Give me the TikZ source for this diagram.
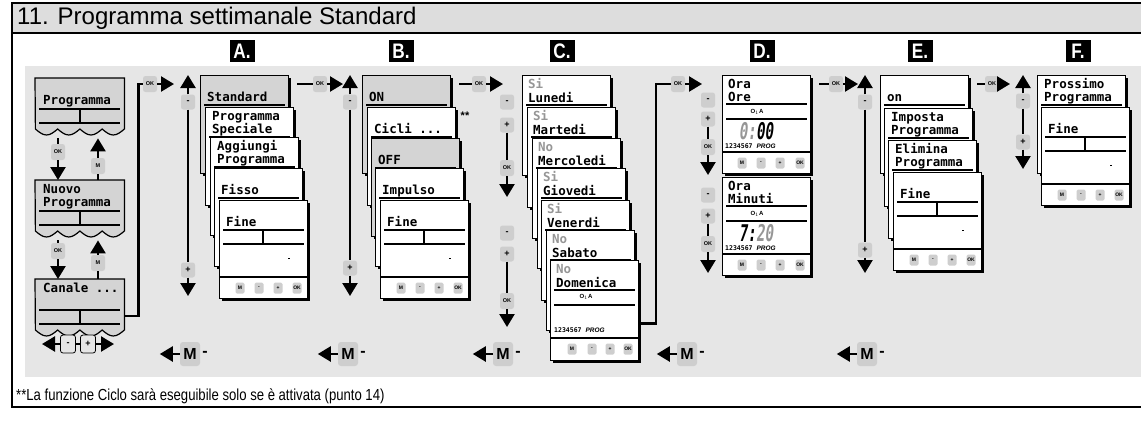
\documentclass[tikz,border=0pt]{standalone}
\usepackage{fontspec}
\setmainfont{Liberation Sans}
\newfontfamily\narrowsans[FakeStretch=0.82]{Liberation Sans}
\newfontfamily\lcdfont{DejaVu Sans Mono}
\newfontfamily\segfont[FakeStretch=0.62,FakeSlant=0.12]{DejaVu Sans Mono}
\usetikzlibrary{arrows.meta,calc,positioning,shadows}
\definecolor{panelgray}{RGB}{230,230,230}
\definecolor{titlegray}{RGB}{221,221,221}
\definecolor{keygray}{RGB}{206,206,206}
\definecolor{screengray}{RGB}{212,212,212}
\definecolor{dimtext}{RGB}{150,150,150}

\begin{document}
\begin{tikzpicture}[
        x=1pt, y=-1pt,
        card/.style={draw=black, line width=1.2pt, fill=white, anchor=north west, inner sep=0pt, minimum width=88pt, minimum height=98pt, general shadow={fill=black, shadow xshift=2.2pt, shadow yshift=-2.2pt}},
        shell/.style={inner sep=0pt, anchor=north west, minimum width=89pt, minimum height=60pt},
        lcd/.style={font=\lcdfont\bfseries\fontsize{12.5}{12.5}\selectfont, inner sep=0pt, anchor=base west},
        rule/.style={line width=1.1pt},
        key/.style={fill=keygray, rounded corners=2.5pt, minimum width=14pt, minimum height=15pt, inner sep=0pt, font=\bfseries\fontsize{9}{9}\selectfont},
        okkey/.style={key, minimum height=16pt, font=\bfseries\fontsize{5.5}{5.5}\selectfont},
        outkey/.style={key, draw=black, line width=0.8pt, fill=panelgray, minimum width=15pt, minimum height=18pt},
        minikey/.style={key, rounded corners=1.5pt, minimum width=9pt, minimum height=11pt, font=\bfseries\fontsize{5}{5}\selectfont},
        bigkey/.style={key, rounded corners=3pt, minimum width=20pt, minimum height=24pt, font=\bfseries\fontsize{16}{16}\selectfont},
        icon/.style={inner sep=0pt, font=\bfseries\fontsize{6}{6}\selectfont},
        days/.style={inner sep=0pt, anchor=base west, font=\lcdfont\bfseries\fontsize{6.5}{6.5}\selectfont},
        seg/.style={inner sep=0pt, anchor=base, text height=15pt, text depth=0pt, font=\segfont\bfseries\fontsize{23}{23}\selectfont},
        link/.style={line width=2.4pt},
        tip/.style={line width=2.4pt, -{Triangle[length=13pt, width=15pt]}},
        stamp/.style={fill=black, text=white, inner sep=0pt, minimum width=25pt, minimum height=22pt, font=\narrowsans\bfseries\fontsize{21}{21}\selectfont}
      ]
      \useasboundingbox (0,0) rectangle (1141,421);
      \fill[titlegray] (12,3) rectangle (1141,33);
      \fill[panelgray] (25,66) rectangle (1141,377);
      \draw[line width=1.6pt] (1141,3) -- (12,3) -- (12,407) -- (1141,407);
      \draw[line width=1.6pt] (12,33) -- (1141,33);
      \node[anchor=west, inner sep=0pt, font=\fontsize{24}{24}\selectfont] (title) at (17,18) {11. Programma settimanale Standard};
      \node[anchor=west, inner sep=0pt, font=\narrowsans\fontsize{16}{16}\selectfont] (note) at (16,396) {**La funzione Ciclo sarà eseguibile solo se è attivata (punto 14)};

      \foreach \nm/\x in {A/242, B/401, C/562, D/762, E/920, F/1078}
        \node[stamp] (lab\nm) at (\x,51) {\nm.};

      % left column
      \foreach \nm/\y/\up/\low in {prog/78//Programma, nuovo/180/Nuovo/Programma, canale/279/Canale .{}.{}./}{
        \node[shell] (\nm) at (35,\y) {};
        \filldraw[fill=screengray, line width=1.2pt] (\nm.north west) -- (\nm.north east) -- ++(0,51)
          sin ++(-11.125,6) cos ++(-11.125,-6) sin ++(-11.125,6) cos ++(-11.125,-6)
          sin ++(-11.125,6) cos ++(-11.125,-6) sin ++(-11.125,6) cos ++(-11.125,-6) -- cycle;
        \node[lcd] (\nm-up) at ([shift={(8,13)}]\nm.north west) {\up};
        \node[lcd] (\nm-low) at ([shift={(8,26)}]\nm.north west) {\low};
        \draw[rule] ([shift={(4,31)}]\nm.north west) -- ([shift={(-4,31)}]\nm.north east);
        \draw[rule] ([shift={(4,45)}]\nm.north west) -- ([shift={(-4,45)}]\nm.north east);
        \draw[rule] ([shift={(45,31)}]\nm.north west) -- ([shift={(45,45)}]\nm.north west);
      }
      \node[okkey] (ok1) at (58,152) {OK};
      \node[okkey] (back1) at (98,166) {M};
      \node[okkey] (ok2) at (58,251) {OK};
      \node[okkey] (back2) at (98,263) {M};
      \draw[link] (prog.south -| ok1) -- (ok1);
      \draw[tip] (ok1) -- (nuovo.north -| ok1);
      \draw[link] (back1) -- (nuovo.north -| back1);
      \draw[tip] (back1) -- (prog.south -| back1);
      \draw[link] (nuovo.south -| ok2) -- (ok2);
      \draw[tip] (ok2) -- (canale.north -| ok2);
      \draw[link] (back2) -- (canale.north -| back2);
      \draw[tip] (back2) -- (nuovo.south -| back2);

      \node[outkey] (chminus) at (68,344) {-};
      \node[outkey] (chplus) at (88,344) {+};
      \coordinate (chleft) at (42,344);
      \coordinate (chright) at (114,344);
      \draw[link] (chminus) -- (chplus);
      \draw[tip] (chminus) -- (chleft);
      \draw[tip] (chplus) -- (chright);

      \node[okkey] (okA) at (150,84) {OK};
      \coordinate (inA) at (174,84);
      \draw[link] ([yshift=-7pt]canale.east) -- ++(14,0) |- (okA);
      \draw[tip] (okA) -- (inA);

      % menu stacks
      \foreach \s/\i/\x/\y/\bg/\up/\low in {a/1/200/75/screengray//Standard, a/2/205/107/white/Programma/Speciale,
          a/3/210/137/white/Aggiungi/Programma, a/4/214/168/white//Fisso,
          b/1/362/75/screengray//ON, b/2/367/107/white//Cicli .{}.{}., b/3/371/138/screengray//OFF, b/4/375/168/white//Impulso,
          e/1/880/75/white//on, e/2/884/108/white/Imposta/Programma, e/3/888/140/white/Elimina/Programma,
          f/1/1037/75/white/Prossimo/Programma}{
        \node[card, fill=\bg] (\s\i) at (\x,\y) {};
        \node[lcd] (\s\i-up) at ([shift={(7,13)}]\s\i.north west) {\up};
        \node[lcd] (\s\i-low) at ([shift={(7,26)}]\s\i.north west) {\low};
        \draw[rule] ([shift={(4,30)}]\s\i.north west) -- ([shift={(-4,30)}]\s\i.north east);
      }
      \foreach \nm/\x/\y in {a5/219/200, b5/380/200, e4/893/172, f2/1041/107}{
        \node[card] (\nm) at (\x,\y) {};
        \node[lcd] (\nm-low) at ([shift={(7,26)}]\nm.north west) {Fine};
        \draw[rule] ([shift={(4,30)}]\nm.north west) -- ([shift={(-4,30)}]\nm.north east);
        \draw[rule] ([shift={(4,44)}]\nm.north west) -- ([shift={(-4,44)}]\nm.north east);
        \draw[rule] ([shift={(44,30)}]\nm.north west) -- ([shift={(44,44)}]\nm.north west);
        \draw[rule] ([shift={(0,77)}]\nm.north west) -- ([shift={(0,77)}]\nm.north east);
        \draw[line width=0.6pt] ([shift={(69,58)}]\nm.north west) -- ([shift={(71,58)}]\nm.north west);
        \foreach \k/\dx [count=\j] in {M/21, -/40, +/59, OK/78}
          \node[minikey] (\nm-k\j) at ([shift={(\dx,88)}]\nm.north west) {\k};
      }
      \node[inner sep=0pt, font=\bfseries\fontsize{11}{11}\selectfont] (stars) at (465,116) {**};

      % weekdays
      \foreach \x/\y/\yn/\day [count=\i] in {522/75/Si/Lunedi, 527/107/Si/Martedi, 532/138/No/Mercoledi, 537/168/Si/Giovedi,
          541/200/Si/Venerdi, 546/230/No/Sabato, 550/260/No/Domenica}{
        \node[card, minimum height=100pt] (c\i) at (\x,\y) {};
        \node[lcd, text=dimtext] (c\i-up) at ([shift={(6,13)}]c\i.north west) {\yn};
        \node[lcd] (c\i-low) at ([shift={(6,27)}]c\i.north west) {\day};
        \draw[rule] ([shift={(4,30)}]c\i.north west) -- ([shift={(-4,30)}]c\i.north east);
      }
      \draw[rule] ([shift={(4,45)}]c7.north west) -- ([shift={(-4,45)}]c7.north east);
      \node[icon] (c7-icon) at ([shift={(36,37)}]c7.north west) {O$_1$A};
      \node[days] (c7-days) at ([shift={(4,72)}]c7.north west) {1234567 {\rmfamily\itshape PROG}};
      \draw[rule] ([shift={(0,78)}]c7.north west) -- ([shift={(0,78)}]c7.north east);
      \foreach \k/\dx [count=\j] in {M/22, -/42, +/60, OK/78}
        \node[minikey] (c7-k\j) at ([shift={(\dx,89)}]c7.north west) {\k};

      % clock
      \foreach \i/\y/\low in {1/75/Ore, 2/177/Minuti}{
        \node[card] (d\i) at (722,\y) {};
        \node[lcd] (d\i-up) at ([shift={(6,13)}]d\i.north west) {Ora};
        \node[lcd] (d\i-low) at ([shift={(6,26)}]d\i.north west) {\low};
        \draw[rule] ([shift={(4,29)}]d\i.north west) -- ([shift={(-4,29)}]d\i.north east);
        \draw[rule] ([shift={(4,44)}]d\i.north west) -- ([shift={(-4,44)}]d\i.north east);
        \node[icon] (d\i-icon) at ([shift={(35,37)}]d\i.north west) {O$_1$A};
        \node[days] (d\i-days) at ([shift={(3,73)}]d\i.north west) {1234567 {\rmfamily\itshape PROG}};
        \draw[rule] ([shift={(0,77)}]d\i.north west) -- ([shift={(0,77)}]d\i.north east);
        \foreach \k/\dx [count=\j] in {M/20, -/39, +/58, OK/78}
          \node[minikey] (d\i-k\j) at ([shift={(\dx,88)}]d\i.north west) {\k};
      }
      \node[seg] (d1-time) at ([shift={(34,64)}]d1.north west) {\textcolor{dimtext}{0:}00};
      \node[seg] (d2-time) at ([shift={(34,64)}]d2.north west) {7:\textcolor{dimtext}{20}};

      % scroll bars
      \foreach \nm/\x/\ytop/\yminus/\yplus/\ybot in {A/188/75/102/270/296, B/350/75/102/268/296, E/865/75/102/250/273, F/1023/75/101/142/169}{
        \node[key] (\nm-minus) at (\x,\yminus) {-};
        \node[key] (\nm-plus) at (\x,\yplus) {+};
        \coordinate (\nm-top) at (\x,\ytop);
        \coordinate (\nm-bot) at (\x,\ybot);
        \draw[link] (\nm-minus) -- (\nm-plus);
        \draw[tip] (\nm-minus) -- (\nm-top);
        \draw[tip] (\nm-plus) -- (\nm-bot);
      }
      \foreach \g/\ym/\yp/\yok/\ybot in {1/102/125/168/197, 2/233/254/301/327}{
        \node[key] (Cm\g) at (507,\ym) {-};
        \node[key] (Cp\g) at (507,\yp) {+};
        \node[okkey] (Cok\g) at (507,\yok) {OK};
        \coordinate (Cbot\g) at (507,\ybot);
        \draw[link] (Cp\g) -- (Cok\g);
        \draw[tip] (Cok\g) -- (Cbot\g);
      }
      \foreach \g/\ym/\yp/\yok/\ybot in {1/100/119/147/175, 2/195/216/244/273}{
        \node[key] (Dm\g) at (708,\ym) {-};
        \node[key] (Dp\g) at (708,\yp) {+};
        \node[okkey] (Dok\g) at (708,\yok) {OK};
        \coordinate (Dbot\g) at (708,\ybot);
        \draw[link] (Dp\g) -- (Dok\g);
        \draw[tip] (Dok\g) -- (Dbot\g);
      }

      % ok chain
      \foreach \from/\nm/\x/\xend in {a1/B/320/343, b1/C/479/503, d1/E/836/858, e1/F/992/1010}{
        \node[okkey] (ok\nm) at (\x,84) {OK};
        \coordinate (in\nm) at (\xend,84);
        \draw[link, shorten <=8pt] (\from.east |- ok\nm) -- (ok\nm);
        \draw[tip] (ok\nm) -- (in\nm);
      }
      \node[okkey] (okD) at (678,84) {OK};
      \coordinate (inD) at (702,84);
      \draw[link] ([yshift=-13pt]c7.east) -- ++(17,0) |- (okD);
      \draw[tip] (okD) -- (inD);

      % back keys
      \foreach \nm/\x in {A/190, B/348, C/503, D/687, E/867}{
        \node[bigkey] (back\nm) at (\x,354) {M};
        \coordinate[left=20pt of back\nm] (backend\nm);
        \draw[tip] (back\nm) -- (backend\nm);
        \node[right=2pt of back\nm, inner sep=0pt, font=\bfseries\fontsize{16}{16}\selectfont] (dash\nm) {-};
      }
    \end{tikzpicture}
\end{document}
